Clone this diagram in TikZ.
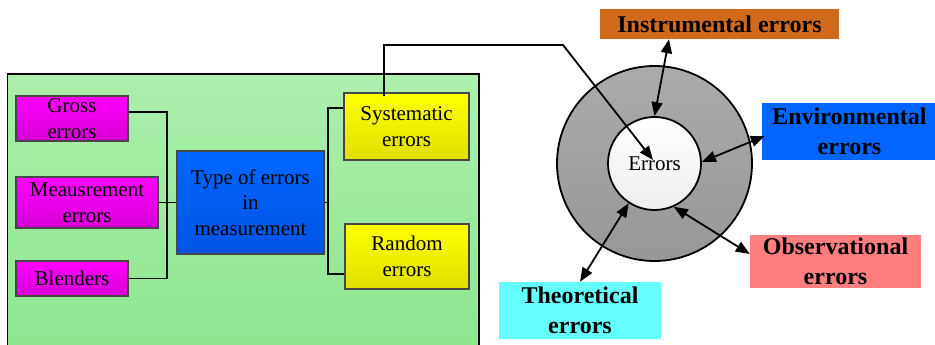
\documentclass[tikz,border=0pt]{standalone}
\usepackage{fontspec}
\setmainfont{Liberation Serif}
\usetikzlibrary{arrows.meta}

\definecolor{panelTop}{HTML}{ABEFAD}
\definecolor{panelBot}{HTML}{8EE68E}
\definecolor{magTop}{HTML}{FF00FF}
\definecolor{magBot}{HTML}{D600D6}
\definecolor{yelTop}{HTML}{FFFF00}
\definecolor{yelBot}{HTML}{E2DE00}
\definecolor{bluTop}{HTML}{0066FF}
\definecolor{bluBot}{HTML}{0054E2}
\definecolor{instrCol}{HTML}{D26A1C}
\definecolor{envCol}{HTML}{0066FF}
\definecolor{obsCol}{HTML}{FF7F7F}
\definecolor{theoCol}{HTML}{66FFFF}
\definecolor{ringTop}{HTML}{ABABAB}
\definecolor{ringBot}{HTML}{979797}

\tikzset{
  typebox/.style={draw=black!72, line width=1.6pt, inner sep=0pt, align=center,
    font=\fontsize{21}{25.5}\selectfont},
  magbox/.style={typebox, top color=magTop, bottom color=magBot},
  yelbox/.style={typebox, top color=yelTop, bottom color=yelBot},
  blubox/.style={typebox, top color=bluTop, bottom color=bluBot},
  srcbox/.style={inner sep=0pt, align=center,
    font=\fontsize{24}{30}\selectfont\bfseries},
  conn/.style={line width=1.8pt, black},
  oneway/.style={conn, -{Triangle[length=14pt,width=11pt]}},
  twoway/.style={conn, {Triangle[length=14pt,width=11pt]}-{Triangle[length=14pt,width=11pt]}}
}

\begin{document}
\begin{tikzpicture}[x=1pt,y=1pt]
\useasboundingbox (0,0) rectangle (935,345);
\clip (0,0) rectangle (935,345);

% classification panel
\shade[top color=panelTop, bottom color=panelBot, draw=black, line width=1.8pt]
  (7.5,271) rectangle (479,-10);

\node[magbox, minimum width=112pt, minimum height=45pt] (gross) at (72,226.5) {Gross\\errors};
\node[magbox, minimum width=142pt, minimum height=51pt] (meas) at (87,142.5) {Meausrement\\errors};
\node[magbox, minimum width=112pt, minimum height=35pt] (blend) at (72,66.5) {Blenders};
\node[blubox, minimum width=147pt, minimum height=103pt] (type) at (250.5,142.5) {Type of errors\\in\\measurement};
\node[yelbox, minimum width=125pt, minimum height=67pt] (sys) at (406.5,218.5) {Systematic\\errors};
\node[yelbox, minimum width=124pt, minimum height=65pt] (rand) at (407,88.5) {Random\\errors};

% bracket connectors
\draw[conn] ([yshift=6.5pt]gross.east) -| (167,142.5) |- (blend.east);
\draw[conn] (meas.east) -- (type.west);
\draw[conn] (type.east) -- (328,142.5);
\draw[conn] ([yshift=18.5pt]sys.west) -| (328,142.5) |- ([yshift=-17.5pt]rand.west);

% error sources ring
\shade[top color=ringTop, bottom color=ringBot, draw=black, line width=1.8pt]
  (654.5,181.5) circle[radius=97.5pt];
\node[circle, draw=black, line width=1.8pt, top color=white, bottom color=black!7,
  minimum size=93pt, inner sep=0pt, font=\fontsize{21}{25.5}\selectfont] (err) at (654.5,181.5) {Errors};

\node[srcbox, fill=instrCol, minimum width=239pt, minimum height=30pt] (instr) at (719.5,321) {Instrumental errors};
\node[srcbox, fill=envCol, minimum width=175pt, minimum height=57pt] (env) at (849.5,213.5) {Environmental\\errors};
\node[srcbox, fill=obsCol, minimum width=171pt, minimum height=53pt] (obs) at (835.5,83.5) {Observational\\errors};
\node[srcbox, fill=theoCol, minimum width=162pt, minimum height=57pt] (theo) at (580,34.5) {Theoretical\\errors};

% links
\draw[oneway] ([xshift=-22.5pt,yshift=-4pt]sys.north) |- (563,300) -- ([xshift=-1.5pt,yshift=3.5pt]err.center);
\draw[twoway] ([xshift=-50.5pt]instr.south) -- (err.90);
\draw[twoway] ([xshift=3pt,yshift=-4.5pt]env.west) -- (err.2);
\draw[twoway] (err.-66) -- ([yshift=7.5pt]obs.west);
\draw[twoway] (theo.north) -- (err.-123);
\end{tikzpicture}
\end{document}
